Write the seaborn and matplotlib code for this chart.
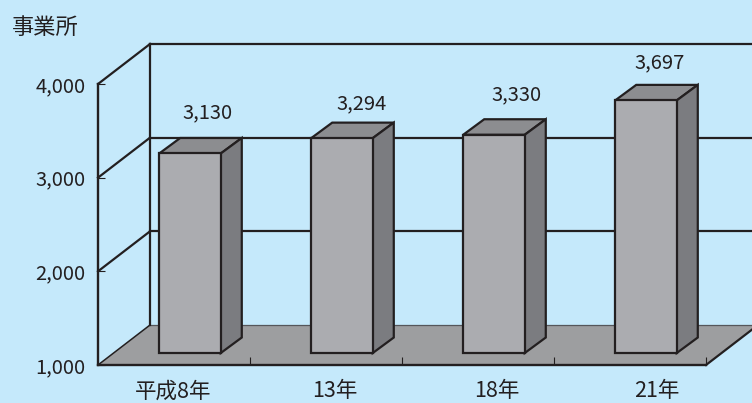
import numpy as np
import pandas as pd
import matplotlib
matplotlib.use("Agg")
import matplotlib.pyplot as plt
from matplotlib.patches import Polygon
from matplotlib.lines import Line2D
from matplotlib.transforms import Affine2D, IdentityTransform
from matplotlib.ticker import FuncFormatter, FixedLocator
import seaborn as sns

categories = ["平成8年", "13年", "18年", "21年"]
values = [3130, 3294, 3330, 3697]
yticks = [1000, 2000, 3000, 4000]
unit_label = "事業所"

W, H = 752, 403
BG = "#c5e9fb"
INK = "#231f20"
FRONT, TOP, SIDE, FLOOR = "#abacb0", "#8c8d90", "#7b7c80", "#9d9ea0"
# axes box in pixels (left, right, y of 1000, y of 4000)
L, R, Y0, Y1 = 98, 706, 365, 84
WALL_DX, WALL_DY = 52, 40      # depth of the box
BAR_SHIFT = (16, 12)           # bars stand inside the box
BAR_DX, BAR_DY = 21, 15.5      # depth of a bar
LW = 1.6
LABEL_XT = [-0.007, 1.059, 2.125, 3.178]
LABEL_OFF = [(17.5, 41), (20, 34), (22, 40), (14, 38)]

sns.set_theme(style="white")
plt.rcParams["font.family"] = ["Noto Sans CJK JP", "DejaVu Sans"]
fig = plt.figure(figsize=(W / 100, H / 100), dpi=100, facecolor=BG)
ax = fig.add_axes([L / W, (H - Y0) / H, (R - L) / W, (Y0 - Y1) / H])
ax.patch.set_visible(False)
ax.set_axisbelow(False)

df = pd.DataFrame({"year": categories, "count": values})
sns.barplot(data=df, x="year", y="count", width=0.405, color=FRONT, saturation=1,
            edgecolor=INK, linewidth=LW, ax=ax, zorder=5)
ax.set_xlim(-0.5, 3.5)
ax.set_ylim(yticks[0], yticks[-1])
ax.set_xlabel("")
ax.set_ylabel("")

ident = IdentityTransform()
def px(x, y):
    return (x, H - y)
def add_line(pts, lw=LW, z=2, color=INK):
    xs, ys = zip(*[px(*p) for p in pts])
    ax.add_line(Line2D(xs, ys, transform=ident, color=color, lw=lw, zorder=z,
                       clip_on=False, solid_capstyle="projecting"))
def add_poly(pts, fc, z):
    ax.add_patch(Polygon(pts, closed=True, transform=ident, fc=fc, ec=INK, lw=LW,
                         zorder=z, clip_on=False, joinstyle="miter"))

# floor
ax.add_patch(Polygon([px(L, Y0), px(L + WALL_DX, Y0 - WALL_DY),
                      px(R + WALL_DX, Y0 - WALL_DY), px(R, Y0)],
                     closed=True, transform=ident, fc=FLOOR, ec="none", zorder=1, clip_on=False))
add_line([(L + WALL_DX, Y0 - WALL_DY), (W, Y0 - WALL_DY)], lw=0.9, z=1.5, color="#55565a")
add_line([(L, Y0), (L + WALL_DX, Y0 - WALL_DY)], lw=1.1)
add_line([(R, Y0), (R + WALL_DX, Y0 - WALL_DY)], lw=LW)

# walls and gridlines
tr = ax.transData
ytop = H - tr.transform((0, yticks[-1]))[1]
add_line([(L + WALL_DX, Y0 - WALL_DY), (L + WALL_DX, ytop - WALL_DY)], lw=LW)
for v in yticks[1:]:
    yp = H - tr.transform((0, v))[1]
    add_line([(L, yp), (L + WALL_DX, yp - WALL_DY)], lw=LW)
    add_line([(L + WALL_DX, yp - WALL_DY), (W, yp - WALL_DY)], lw=LW)

# bars: front from seaborn, then raised from the axis floor and given depth
shift = Affine2D().translate(BAR_SHIFT[0], BAR_SHIFT[1])
bars = list(ax.patches)
bars = [p for p in bars if not isinstance(p, Polygon)][:len(values)]
for p, v, (ox, oy) in zip(bars, values, LABEL_OFF):
    p.set_y(yticks[0])
    p.set_height(v - yticks[0])
    p.set_transform(tr + shift)
    p.set_clip_on(False)
    x0, x1 = p.get_x(), p.get_x() + p.get_width()
    tl, tr_, br = (tr + shift).transform([(x0, v), (x1, v), (x1, yticks[0])])
    d = np.array([BAR_DX, BAR_DY])
    add_poly([tl, tr_, tr_ + d, tl + d], TOP, 4)
    add_poly([tr_, br, br + d, tr_ + d], SIDE, 4)
    cx = (tl[0] + tr_[0]) / 2
    ax.text(cx + ox, tl[1] + oy, f"{v:,}", transform=ident, ha="center", va="center",
            fontsize=14.5, color=INK, zorder=6, clip_on=False)

# axes
sns.despine(ax=ax, top=True, right=True)
for s in ("left", "bottom"):
    ax.spines[s].set_color(INK)
    ax.spines[s].set_linewidth(1.7)
    ax.spines[s].set_zorder(3)
ax.yaxis.set_major_locator(FixedLocator(yticks))
ax.yaxis.set_major_formatter(FuncFormatter(lambda v, _: f"{int(v):,}"))
ax.tick_params(axis="y", which="major", direction="in", length=5, width=0.8, color=INK,
               left=True, labelsize=14.5, labelcolor=INK, pad=9)
ax.set_xticks(LABEL_XT)
ax.set_xticklabels(categories)
ax.set_xticks([0.5, 1.5, 2.5, 3.5], minor=True)
ax.tick_params(axis="x", which="major", length=0, labelsize=15.5, labelcolor=INK, pad=11)
ax.tick_params(axis="x", which="minor", direction="in", length=6, width=0.8, color=INK, bottom=True)

fig.text(45 / W, 1 - 27 / H, unit_label, ha="center", va="center", fontsize=16, color=INK)
fig.savefig("out.png", dpi=100, facecolor=BG)
